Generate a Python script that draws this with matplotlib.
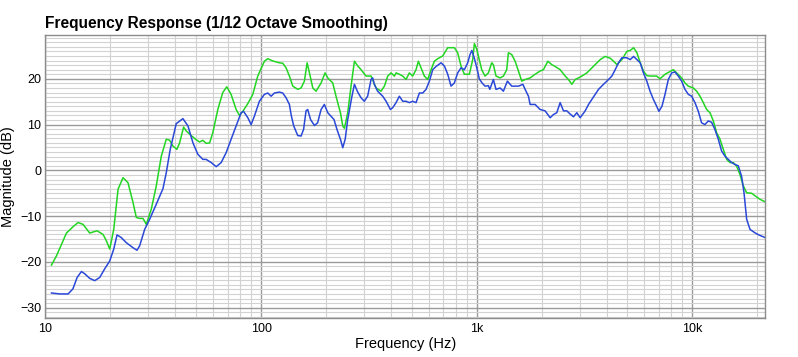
import matplotlib
matplotlib.use("Agg")
import matplotlib.pyplot as plt
from matplotlib.ticker import FixedLocator, FixedFormatter, MultipleLocator, NullFormatter
import numpy as np

plt.rcParams["font.family"] = ["Liberation Sans", "DejaVu Sans"]

# green trace (Hz, dB)
green_f = [10.66, 11.24, 12.51, 13.43, 14.16, 14.94, 16.04, 17.35, 18.49, 19.17, 19.86,
           20.73, 21.71, 22.89, 24.14, 25.46, 26.38, 27.33, 28.33, 29.35, 30.95, 32.65,
           34.44, 36.33, 37.64, 39.0, 40.7, 41.9, 43.7, 44.97, 47.4, 50.0, 51.8, 53.7,
           55.6, 57.7, 59.7, 63.0, 66.4, 69.3, 72.6, 76.6, 79.4, 82.3, 86.8, 91.5, 96.5,
           103.6, 107.4, 113.3, 121.6, 126.0, 130.6, 135.3, 140.3, 147.9, 153.3, 158.8,
           163.5, 167.6, 173.7, 179.9, 189.8, 198.0, 203.8, 214.9, 222.6, 233.3, 239.2,
           243.5, 252.2, 261.4, 270.9, 280.7, 290.9, 306.8, 323.6, 341.4, 360.0, 373.2,
           386.7, 400.7, 415.2, 422.7, 437.8, 453.8, 470.1, 487.2, 504.8, 523.2, 536.3,
           551.9, 571.9, 592.7, 614.4, 636.5, 659.7, 695.7, 733.8, 787.7, 816.3, 845.8,
           876.4, 924.7, 958.3, 975.4, 1000, 1030, 1055, 1093, 1133, 1174, 1195, 1229,
           1284, 1330, 1378, 1403, 1454, 1507, 1562, 1618, 1677, 1769, 1866, 1968, 2040,
           2137, 2230, 2311, 2438, 2572, 2665, 2762, 2862, 2965, 3073, 3243, 3421, 3544,
           3739, 3944, 4161, 4312, 4469, 4714, 4974, 5153, 5341, 5534, 5734, 5932, 6150,
           6367, 6836, 7078, 7471, 7821, 8164, 8460, 8923, 9247, 9582, 10107, 10473,
           10854, 11247, 11657, 12075, 12515, 12970, 13438, 13929, 14430, 14960, 15495,
           16058, 16634, 17250, 17860, 18846, 19600, 20560, 21800]
green_db = [-20.7, -18.7, -13.7, -12.3, -11.4, -11.8, -13.7, -13.2, -14.0, -15.4, -17.2,
            -12.9, -4.1, -1.6, -2.7, -7.0, -10.3, -10.5, -10.5, -11.8, -8.5, -3.4,
            3.1, 6.8, 6.6, 5.3, 4.6, 6.0, 9.45, 8.6, 7.6, 6.7, 6.2, 6.55,
            5.9, 6.0, 8.2, 13.3, 17.0, 18.25, 16.6, 13.3, 12.0, 12.9, 14.6, 16.6, 20.6,
            23.85, 24.4, 23.9, 23.5, 23.4, 22.4, 20.6, 18.4, 17.7, 18.0, 19.5,
            23.5, 21.3, 18.0, 17.3, 19.1, 21.3, 20.2, 19.1, 16.2, 12.6, 9.7,
            9.2, 12.6, 18.4, 23.85, 22.8, 22.0, 20.6, 20.6, 18.0, 17.3, 18.4,
            20.6, 21.3, 20.6, 21.3, 21.0, 20.6, 19.85, 21.3, 20.6, 22.0, 23.85,
            22.4, 20.6, 19.85, 22.0, 23.85, 24.4, 25.0, 26.8, 26.8, 25.7, 22.8,
            21.0, 21.0, 24.2, 27.7, 26.5, 24.0, 22.0, 20.6, 21.3, 23.5, 23.1, 20.6,
            20.2, 20.6, 22.0, 25.7, 25.3, 23.85, 21.7, 19.5, 19.85, 20.2, 21.0, 21.7, 22.0,
            23.85, 23.1, 22.7, 22.0, 20.6, 19.85, 18.8, 19.85, 20.2, 20.6, 21.3, 22.4, 23.1,
            24.2, 24.9, 24.5, 23.85, 23.1, 24.2, 26.0, 26.2, 26.8, 25.7, 23.5, 21.7, 20.7,
            20.6, 20.6, 20.0, 21.0, 21.5, 22.0, 21.3, 20.2, 19.1, 18.4, 18.0, 17.3,
            16.2, 14.8, 13.3, 12.6, 10.8, 8.2, 6.8, 4.6, 2.4, 1.7, 1.7,
            0.9, -0.9, -3.4, -4.9, -5.0, -5.6, -6.3, -6.9]

# blue trace (Hz, dB)
blue_f = [10.66, 11.65, 12.73, 13.4, 14.02, 14.68, 15.21, 16.04, 16.92, 17.85, 18.83,
          19.86, 20.73, 21.47, 22.48, 23.71, 25.46, 26.57, 27.33, 28.84, 30.41, 32.65,
          35.06, 36.33, 37.9, 40.4, 43.39, 45.8, 48.3, 50.9, 53.7, 55.6, 58.7, 61.9,
          65.3, 68.9, 72.6, 76.6, 80.8, 82.9, 86.8, 89.9, 93.1, 98.2,
          103.6, 107.4, 111.3, 115.3, 121.6, 126.0, 130.6, 135.3, 138, 141.7, 147.9,
          153.3, 157.5, 161.6, 164.5, 169.6, 176.8, 182.9, 189.8, 196.5, 203.8, 210.9,
          217.9, 225.0, 233.3, 239.2, 245.5, 252.2, 263, 270.9, 280.7, 290.9, 301.2,
          312, 323.6, 329.5, 335, 347, 366.5, 380, 397.9, 408, 422.7, 437.8, 453.8,
          470.1, 487.2, 504.8, 523.2, 542.2, 561.8, 582.3, 603.3, 625.3, 647.9, 683.5,
          708.3, 733.8, 760.3, 787.7, 816.3, 845.8, 876.4, 908.4, 931, 950, 975, 1000,
          1028, 1055, 1093, 1133, 1150, 1195, 1229, 1284, 1330, 1388, 1454, 1562, 1638,
          1677, 1738, 1769, 1866, 1968, 2076, 2191, 2270, 2352, 2438, 2527, 2618, 2713,
          2811, 2913, 3019, 3185, 3301, 3421, 3544, 3673, 3874, 4087, 4235, 4389, 4549,
          4714, 4974, 5153, 5341, 5534, 5734, 5932, 6150, 6367, 6600, 6836, 7000, 7232,
          7471, 7740, 8025, 8310, 8610, 8923, 9247, 9582, 9930, 10290, 10660, 11040,
          11440, 11860, 12290, 12740, 13200, 13680, 14170, 14690, 15220, 15770, 16340,
          16930, 17370, 17870, 18520, 19600, 20560, 21800]
blue_db = [-26.8, -27.0, -27.0, -25.9, -23.4, -22.1, -22.6, -23.6, -24.1, -23.4, -21.5,
           -19.8, -17.2, -14.1, -14.7, -15.8, -16.9, -17.45, -16.5, -12.9, -10.7, -7.4,
           -4.0, -0.5, 4.6, 10.2, 11.3, 9.7, 6.0, 3.5, 2.4, 2.4, 1.7, 0.8,
           1.7, 3.9, 6.8, 9.7, 12.6, 12.9, 11.5, 10.0, 11.85, 15.1,
           16.6, 16.9, 16.2, 16.9, 17.1, 16.9, 15.85, 14.4, 12.0, 9.7, 7.6,
           7.5, 9.0, 13.0, 13.3, 11.1, 9.8, 10.4, 13.3, 14.4, 12.6, 11.85,
           11.1, 8.9, 6.8, 4.95, 6.8, 11.1, 15.85, 18.8, 17.1, 15.85, 15.1,
           16.2, 19.85, 20.2, 18.8, 17.3, 16.2, 15.1, 13.3, 13.7, 14.8, 16.2, 15.1,
           15.1, 14.8, 15.1, 14.8, 16.9, 16.9, 17.7, 19.5, 22.0, 22.7, 23.5,
           22.8, 21.0, 18.4, 19.1, 21.3, 22.4, 22.0, 23.5, 25.3, 26.2, 24.5, 22.5,
           20.0, 19.2, 18.4, 18.5, 17.7, 19.85, 17.7, 18.0, 17.3, 19.5, 18.4, 18.4, 18.8,
           17.7, 16.2, 14.4, 14.4, 13.3, 13.0, 11.5, 12.2, 12.6, 14.8, 13.0, 13.0, 12.3,
           11.7, 12.6, 11.5, 13.0, 14.4, 15.5, 16.6, 17.7, 18.8, 19.85, 20.6, 22.0, 23.5,
           24.6, 24.6, 24.2, 24.9, 24.2, 23.5, 21.3, 19.5, 17.3, 15.5, 14.0, 12.9, 14.0,
           16.6, 19.85, 21.3, 21.5, 20.6, 19.5, 17.7, 16.6, 16.2, 14.8, 12.9, 10.4,
           10.0, 10.8, 10.5, 8.9, 6.8, 4.2, 3.1, 2.4, 1.7, 1.3, 1.0,
           -1.3, -4.9, -10.7, -12.9, -13.7, -14.2, -14.7]

x_ticks = [10, 100, 1000, 10000]
x_labels = ["10", "100", "1k", "10k"]
y_ticks = [-30, -20, -10, 0, 10, 20]

fig = plt.figure(figsize=(7.98, 3.57), dpi=100)
ax = fig.add_axes([0.057, 0.11, 0.902, 0.791])

ax.semilogx(green_f, green_db, color="#22d622", linewidth=1.1)
ax.semilogx(blue_f, blue_db, color="#2a48d8", linewidth=1.1)

ax.set_xlim(10, 21800)
ax.set_ylim(-32.2, 29.5)

ax.xaxis.set_major_locator(FixedLocator(x_ticks))
ax.xaxis.set_major_formatter(FixedFormatter(x_labels))
minor_x = [m * d for d in (10, 100, 1000, 10000) for m in range(2, 10) if m * d < 21800]
ax.xaxis.set_minor_locator(FixedLocator(minor_x))
ax.xaxis.set_minor_formatter(NullFormatter())
ax.yaxis.set_major_locator(FixedLocator(y_ticks))
ax.yaxis.set_minor_locator(MultipleLocator(1))

ax.grid(True, which="major", color="#9a9a9a", linewidth=1.0)
ax.grid(True, which="minor", color="#d2d2d2", linewidth=0.8)
ax.set_axisbelow(True)
for s in ax.spines.values():
    s.set_color("#8c8c8c")
    s.set_linewidth(1.0)

ax.tick_params(which="both", length=0, labelsize=9, pad=4)
ax.tick_params(axis="y", pad=3)
ax.set_xlabel("Frequency (Hz)", fontsize=10.5, labelpad=1)
ax.set_ylabel("Magnitude (dB)", fontsize=10.5)
ax.yaxis.set_label_coords(-0.043, 0.5)
ax.set_title("Frequency Response (1/12 Octave Smoothing)", loc="left",
             fontsize=11.2, fontweight="bold", pad=5)

fig.savefig("out.png", dpi=100, facecolor="white")
